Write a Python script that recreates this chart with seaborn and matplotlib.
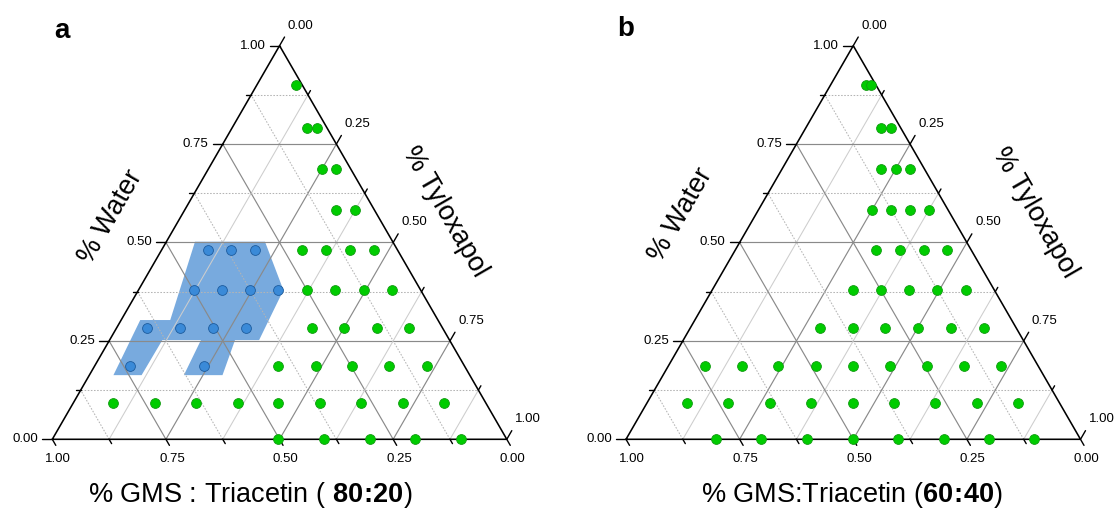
import numpy as np
import pandas as pd
import matplotlib
matplotlib.use("Agg")
import matplotlib.pyplot as plt
import seaborn as sns

# ---------------- data (fractions) ----------------
# Panel a : GMS:Triacetin 80:20
a_green_water = [0.900,
                 0.792, 0.792,
                 0.686, 0.686,
                 0.582, 0.582,
                 0.480, 0.480, 0.480, 0.480,
                 0.380, 0.380, 0.380, 0.380,
                 0.282, 0.282, 0.282, 0.282,
                 0.185, 0.185, 0.185, 0.185, 0.185,
                 0.093, 0.093, 0.093, 0.093, 0.093, 0.093, 0.093, 0.093, 0.093,
                 0.000, 0.000, 0.000, 0.000, 0.000]
a_green_tylox = [0.086,
                 0.164, 0.186,
                 0.250, 0.281,
                 0.333, 0.375,
                 0.310, 0.362, 0.415, 0.467,
                 0.370, 0.432, 0.495, 0.557,
                 0.430, 0.501, 0.573, 0.644,
                 0.405, 0.487, 0.568, 0.649, 0.731,
                 0.088, 0.179, 0.269, 0.361, 0.451, 0.542, 0.633, 0.725, 0.816,
                 0.497, 0.598, 0.698, 0.798, 0.899]
a_blue_water = [0.480, 0.480, 0.480,
                0.380, 0.380, 0.380, 0.380,
                0.282, 0.282, 0.282, 0.282,
                0.185, 0.185]
a_blue_tylox = [0.102, 0.153, 0.206,
                0.121, 0.183, 0.245, 0.307,
                0.068, 0.141, 0.213, 0.286,
                0.079, 0.241]
a_region_water = [0.502, 0.502, 0.379, 0.252, 0.252, 0.163, 0.163,
                  0.252, 0.252, 0.163, 0.163, 0.303, 0.303]
a_region_tylox = [0.063, 0.217, 0.319, 0.329, 0.276, 0.293, 0.208,
                  0.201, 0.116, 0.115, 0.053, 0.042, 0.108]

# Panel b : GMS:Triacetin 60:40
b_green_water = [0.900, 0.900,
                 0.792, 0.792,
                 0.686, 0.686, 0.686,
                 0.582, 0.582, 0.582, 0.582,
                 0.480, 0.480, 0.480, 0.480,
                 0.380, 0.380, 0.380, 0.380, 0.380,
                 0.282, 0.282, 0.282, 0.282, 0.282, 0.282,
                 0.185, 0.185, 0.185, 0.185, 0.185, 0.185, 0.185, 0.185, 0.185,
                 0.093, 0.093, 0.093, 0.093, 0.093, 0.093, 0.093, 0.093, 0.093,
                 0.000, 0.000, 0.000, 0.000, 0.000, 0.000, 0.000, 0.000]
b_green_tylox = [0.078, 0.088,
                 0.165, 0.187,
                 0.219, 0.250, 0.282,
                 0.250, 0.292, 0.334, 0.375,
                 0.311, 0.363, 0.415, 0.467,
                 0.309, 0.371, 0.433, 0.495, 0.557,
                 0.286, 0.358, 0.429, 0.502, 0.573, 0.646,
                 0.081, 0.162, 0.243, 0.325, 0.407, 0.488, 0.570, 0.651, 0.732,
                 0.088, 0.179, 0.271, 0.361, 0.453, 0.543, 0.634, 0.725, 0.815,
                 0.198, 0.298, 0.399, 0.499, 0.599, 0.699, 0.798, 0.898]

tick_values = [0.0, 0.25, 0.5, 0.75, 1.0]
tick_labels = ["0.00", "0.25", "0.50", "0.75", "1.00"]
panel_letters = ["a", "b"]
water_title = "% Water"
tylox_title = "% Tyloxapol"
bottom_titles = [r"% GMS : Triacetin ( $\mathbf{80\!:\!20}$)",
                 r"% GMS:Triacetin ($\mathbf{60\!:\!40}$)"]

# ---------------- style ----------------
sns.set_theme(style="white")
plt.rcParams["font.family"] = ["Liberation Sans", "DejaVu Sans"]
plt.rcParams["text.color"] = "black"
plt.rcParams["mathtext.fontset"] = "custom"
plt.rcParams["mathtext.rm"] = "Liberation Sans"
plt.rcParams["mathtext.bf"] = "Liberation Sans:bold"
plt.rcParams["mathtext.it"] = "Liberation Sans:italic"

W, H = 1116, 508
fig = plt.figure(figsize=(W / 100, H / 100), dpi=100)
PX = 454.5  # pixels per unit triangle side
S3 = np.sqrt(3) / 2


def tern(w, t):
    w = np.asarray(w, float)
    t = np.asarray(t, float)
    return t + w / 2.0, w * S3


def make_ax(x0_px):
    xmin, xmax, ymin, ymax = -0.1, 1.1, -0.14, 0.92
    left = (x0_px + xmin * PX) / W
    bottom = (H - (439.3 - ymin * PX)) / H
    ax = fig.add_axes([left, bottom, (xmax - xmin) * PX / W, (ymax - ymin) * PX / H])
    ax.set_xlim(xmin, xmax)
    ax.set_ylim(ymin, ymax)
    ax.axis("off")
    return ax


def draw_frame(ax):
    major_c, minor_c, dot_c = "#8a8a8a", "#cdcdcd", "#b4b4b4"
    for k in range(1, 8):
        v = k / 8
        major = k % 2 == 0
        x, y = tern([v, v], [0, 1 - v])
        if major:
            ax.plot(x, y, color=major_c, lw=0.85, zorder=2)
        else:
            ax.plot(x, y, color=dot_c, lw=0.75, ls=(0, (1.5, 1.5)), zorder=2)
        x, y = tern([0, 1 - v], [v, v])
        ax.plot(x, y, color=major_c if major else minor_c, lw=0.85 if major else 0.75, zorder=2)
        x, y = tern([0, 1 - v], [1 - v, 0])
        if major:
            ax.plot(x, y, color=major_c, lw=0.85, zorder=2)
        else:
            ax.plot(x, y, color=dot_c, lw=0.75, ls=(0, (1.5, 1.5)), zorder=2)
    x, y = tern([0, 0, 1, 0], [0, 1, 0, 0])
    ax.plot(x, y, color="black", lw=1.15, zorder=4, solid_joinstyle="miter")

    maj_len, min_len = 10 / PX, 5 / PX
    for k in range(0, 9):
        v = k / 8
        ln = maj_len if k % 2 == 0 else min_len
        x, y = tern(v, 0)
        ax.plot([x, x - ln], [y, y], color="black", lw=1.0, zorder=4, clip_on=False)
        bl = (7 if k % 2 == 0 else 5) / PX
        x, y = tern(0, v)
        ax.plot([x, x + 0.5 * bl], [y, y - S3 * bl], color="black", lw=1.0, zorder=4, clip_on=False)
        x, y = tern(1 - v, v)
        ax.plot([x, x + 0.5 * ln], [y, y + S3 * ln], color="black", lw=1.0, zorder=4, clip_on=False)

    for v, lab in zip(tick_values, tick_labels):
        x, y = tern(v, 0)
        ax.text(x - 14 / PX, y, lab, ha="right", va="center", fontsize=9.5, color="black")
        x, y = tern(0, 1 - v)
        ax.text(x + 6 / PX, y - 20 / PX, lab, ha="center", va="center", fontsize=9.5, color="black")
        x, y = tern(1 - v, v)
        ax.text(x + 21 / PX, y + 20 / PX, lab, ha="center", va="center", fontsize=9.5, color="black")


def scatter(ax, water, tylox, face, edge):
    x, y = tern(water, tylox)
    df = pd.DataFrame({"x": x, "y": y})
    sns.scatterplot(data=df, x="x", y="y", ax=ax, s=50, color=face,
                    edgecolor=edge, linewidth=0.6, zorder=6, clip_on=False, legend=False)
    ax.set_xlabel("")
    ax.set_ylabel("")


# ---------------- panel a ----------------
ax_a = make_ax(52.3)
draw_frame(ax_a)
rx, ry = tern(a_region_water, a_region_tylox)
ax_a.fill(rx, ry, color="#78aade", lw=0, zorder=1)
scatter(ax_a, a_green_water, a_green_tylox, "#00cc00", "#129a12")
scatter(ax_a, a_blue_water, a_blue_tylox, "#3a8ad8", "#1d5c9e")
ax_a.axis("off")

# ---------------- panel b ----------------
ax_b = make_ax(626.0)
draw_frame(ax_b)
scatter(ax_b, b_green_water, b_green_tylox, "#00cc00", "#129a12")
ax_b.axis("off")


def ftext(xp, yp, s, **kw):
    fig.text(xp / W, 1 - yp / H, s, color="black", **kw)


ftext(110.7, 216.7, water_title, rotation=60, ha="center", va="center", fontsize=19.5)
ftext(680.7, 215.0, water_title, rotation=60, ha="center", va="center", fontsize=19.5)
ftext(445.0, 211.7, tylox_title, rotation=-60, ha="center", va="center", fontsize=19.5)
ftext(1035.0, 213.0, tylox_title, rotation=-60, ha="center", va="center", fontsize=19.5)
ftext(250.0, 502.0, bottom_titles[0], ha="center", va="baseline", fontsize=19.5)
ftext(852.0, 502.0, bottom_titles[1], ha="center", va="baseline", fontsize=19.5)
ftext(62.0, 31.0, panel_letters[0], ha="center", va="center", fontsize=20, fontweight="bold")
ftext(626.0, 29.0, panel_letters[1], ha="center", va="center", fontsize=20, fontweight="bold")

fig.savefig("out.png", dpi=100, facecolor="white")
